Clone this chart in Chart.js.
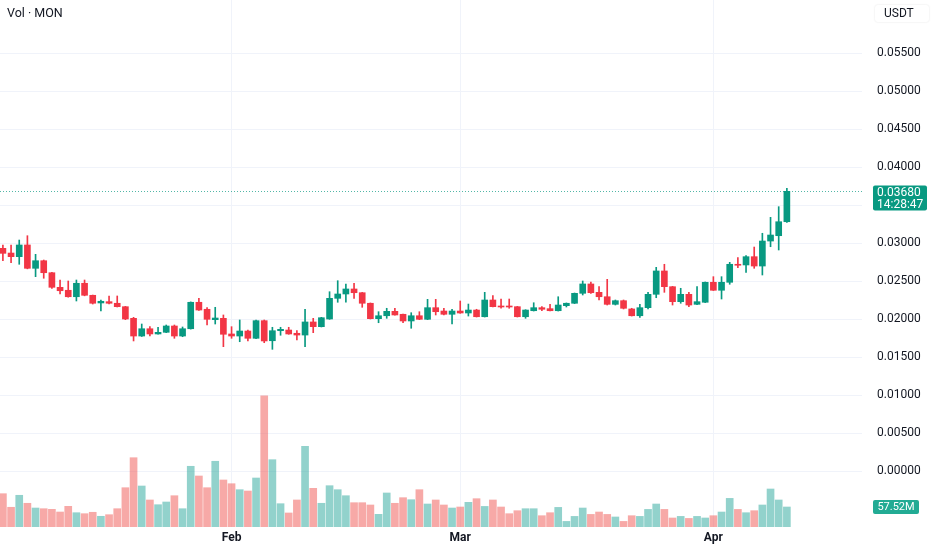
<!DOCTYPE html>
<html>
<head>
<meta charset="utf-8">
<script src="https://cdn.jsdelivr.net/npm/chart.js@4"></script>
<style>
  body { margin: 0; background: #fff; }
  #wrap { position: relative; width: 932px; height: 550px; }
  #legend { position: absolute; left: 7px; top: 5px; font: 12.5px Roboto, sans-serif; color: #131722; }
  #currency { position: absolute; left: 875px; top: 5px; width: 45px; height: 17px; padding-left: 9px;
    font: 12px Roboto, sans-serif; line-height: 17px; color: #131722; background: #fff;
    border-radius: 3px; box-shadow: 0 0 2px rgba(0,0,0,0.12); }
</style>
</head>
<body>
<div id="wrap">
  <canvas id="grafico" width="932" height="550"></canvas>
  <div id="legend">Vol · MON</div>
  <div id="currency">USDT</div>
</div>
<script>
// daily candles, Jan 4 .. Apr 10 (index 0 .. 96)
const opens = [
  0.02930, 0.02868, 0.02820, 0.02974, 0.02667, 0.02767, 0.02609, 0.02417, 0.02378, 0.02293,
  0.02470, 0.02312, 0.02211, 0.02228, 0.02207, 0.02162, 0.02009, 0.01776, 0.01872, 0.01803,
  0.01825, 0.01908, 0.01776, 0.01872, 0.02220, 0.02128, 0.01991, 0.02009, 0.01803, 0.01776,
  0.01842, 0.01746, 0.01978, 0.01714, 0.01846, 0.01855, 0.01812, 0.01789, 0.01961, 0.01899,
  0.02000, 0.02272, 0.02329, 0.02395, 0.02346, 0.02207, 0.02004, 0.02043, 0.02101, 0.02062,
  0.01974, 0.02043, 0.01996, 0.02149, 0.02105, 0.02062, 0.02105, 0.02079, 0.02118, 0.02030,
  0.02250, 0.02171, 0.02171, 0.02162, 0.02030, 0.02109, 0.02149, 0.02136, 0.02109, 0.02175,
  0.02207, 0.02338, 0.02461, 0.02351, 0.02293, 0.02193, 0.02241, 0.02132, 0.02043, 0.02149,
  0.02325, 0.02632, 0.02425, 0.02228, 0.02325, 0.02193, 0.02220, 0.02483, 0.02378, 0.02483,
  0.02720, 0.02711, 0.02820, 0.02697, 0.03026, 0.03096, 0.03280
];
const highs = [
  0.02974, 0.02974, 0.03039, 0.03096, 0.02851, 0.02776, 0.02615, 0.02513, 0.02500, 0.02513,
  0.02513, 0.02315, 0.02250, 0.02303, 0.02303, 0.02166, 0.02022, 0.01934, 0.01899, 0.01891,
  0.01921, 0.01921, 0.01895, 0.02225, 0.02272, 0.02149, 0.02154, 0.02053, 0.01899, 0.01987,
  0.01855, 0.01987, 0.01987, 0.01891, 0.01891, 0.01891, 0.01846, 0.02128, 0.02009, 0.02022,
  0.02359, 0.02504, 0.02461, 0.02470, 0.02350, 0.02211, 0.02096, 0.02141, 0.02141, 0.02066,
  0.02083, 0.02096, 0.02259, 0.02259, 0.02141, 0.02128, 0.02237, 0.02197, 0.02128, 0.02351,
  0.02307, 0.02263, 0.02263, 0.02166, 0.02122, 0.02214, 0.02162, 0.02193, 0.02293, 0.02211,
  0.02342, 0.02500, 0.02487, 0.02425, 0.02522, 0.02250, 0.02250, 0.02141, 0.02193, 0.02351,
  0.02680, 0.02720, 0.02429, 0.02404, 0.02351, 0.02425, 0.02487, 0.02557, 0.02557, 0.02746,
  0.02807, 0.02833, 0.02947, 0.03128, 0.03338, 0.03478, 0.03720
];
const lows = [
  0.02767, 0.02741, 0.02720, 0.02660, 0.02557, 0.02536, 0.02404, 0.02329, 0.02287, 0.02237,
  0.02305, 0.02197, 0.02105, 0.02197, 0.02158, 0.01991, 0.01711, 0.01770, 0.01776, 0.01799,
  0.01820, 0.01746, 0.01767, 0.01867, 0.02112, 0.01921, 0.01934, 0.01636, 0.01746, 0.01701,
  0.01711, 0.01742, 0.01688, 0.01601, 0.01786, 0.01799, 0.01724, 0.01636, 0.01820, 0.01895,
  0.01996, 0.02220, 0.02220, 0.02272, 0.02154, 0.02000, 0.01951, 0.02009, 0.02049, 0.01951,
  0.01878, 0.01991, 0.01991, 0.02053, 0.02053, 0.01934, 0.02075, 0.02039, 0.02026, 0.02026,
  0.02158, 0.02141, 0.02141, 0.02026, 0.02009, 0.02105, 0.02109, 0.02105, 0.02105, 0.02158,
  0.02203, 0.02316, 0.02338, 0.02250, 0.02184, 0.02184, 0.02132, 0.02039, 0.02022, 0.02132,
  0.02280, 0.02351, 0.02184, 0.02207, 0.02162, 0.02189, 0.02216, 0.02375, 0.02263, 0.02457,
  0.02675, 0.02614, 0.02667, 0.02579, 0.02951, 0.02908, 0.03272
];
const closes = [
  0.02864, 0.02820, 0.02974, 0.02667, 0.02767, 0.02609, 0.02417, 0.02372, 0.02293, 0.02470,
  0.02312, 0.02207, 0.02233, 0.02207, 0.02162, 0.02000, 0.01776, 0.01872, 0.01803, 0.01825,
  0.01908, 0.01776, 0.01872, 0.02220, 0.02118, 0.01996, 0.02013, 0.01799, 0.01776, 0.01842,
  0.01746, 0.01978, 0.01711, 0.01846, 0.01864, 0.01803, 0.01789, 0.01961, 0.01899, 0.02017,
  0.02272, 0.02329, 0.02395, 0.02346, 0.02207, 0.02004, 0.02043, 0.02101, 0.02053, 0.01974,
  0.02043, 0.01996, 0.02149, 0.02096, 0.02062, 0.02105, 0.02079, 0.02118, 0.02030, 0.02250,
  0.02162, 0.02158, 0.02158, 0.02030, 0.02118, 0.02149, 0.02128, 0.02109, 0.02184, 0.02207,
  0.02338, 0.02461, 0.02346, 0.02293, 0.02193, 0.02241, 0.02141, 0.02043, 0.02149, 0.02325,
  0.02632, 0.02425, 0.02228, 0.02325, 0.02184, 0.02228, 0.02483, 0.02378, 0.02483, 0.02720,
  0.02707, 0.02820, 0.02697, 0.03026, 0.03105, 0.03280, 0.03680
];
// volume in millions
const volumes = [
  95.8, 56.7, 91.2, 68.2, 54.6, 52.6, 50.9, 43.1, 59.5, 41.1,
  38.3, 42.3, 30.8, 35.4, 52.6, 113.0, 199.3, 117.9, 77.7, 64.1,
  71.9, 90.0, 52.6, 174.6, 146.7, 113.0, 189.0, 135.2, 124.5, 107.3,
  103.5, 140.9, 377.6, 193.6, 67.0, 40.3, 77.7, 232.1, 111.3, 68.2,
  118.8, 107.3, 90.0, 69.9, 69.9, 63.3, 36.5, 97.8, 68.2, 84.3,
  78.5, 107.3, 66.1, 77.7, 63.3, 54.6, 57.5, 71.0, 81.4, 59.2,
  77.7, 57.5, 38.3, 46.9, 52.6, 52.6, 32.5, 41.1, 56.4, 16.1,
  30.5, 54.6, 36.2, 43.1, 36.2, 28.8, 16.1, 32.5, 30.5, 50.6,
  66.1, 50.6, 25.9, 30.5, 24.7, 30.5, 25.9, 32.5, 43.1, 82.3,
  50.6, 41.1, 46.9, 63.3, 109.3, 77.7, 57.52
];
const monthTickIdx = [28, 56, 87];
const monthTickLabels = ['Feb', 'Mar', 'Apr'];
const priceTicks = [0, 0.005, 0.01, 0.015, 0.02, 0.025, 0.03, 0.035, 0.04, 0.045, 0.05, 0.055];
const countdown = '14:28:47';

const upColor = '#089981';
const downColor = '#F23645';
const upVol = 'rgba(38, 166, 154, 0.5)';
const downVol = 'rgba(239, 83, 80, 0.5)';
const gridColor = '#f0f3fa';
const textColor = '#131722';
const fontFamily = 'Roboto, sans-serif';

const isUp = opens.map((o, i) => closes[i] >= o);
const bodies = opens.map((o, i) => ({ x: i, y: [o, closes[i]] }));
const wicks = lows.map((l, i) => ({ x: i, y: [l, highs[i]] }));
const volBars = volumes.map((v, i) => ({ x: i, y: v }));

// last price line + labels on the right scale
const lastPricePlugin = {
    id: 'lastPrice',
    afterDraw(chart) {
        const ctx = chart.ctx;
        const area = chart.chartArea;
        const last = closes.length - 1;
        const py = Math.round(chart.scales.y.getPixelForValue(closes[last])) + 0.5;
        const vy = Math.round(chart.scales.vol.getPixelForValue(volumes[last]));
        ctx.save();
        ctx.strokeStyle = 'rgba(8, 153, 129, 0.7)';
        ctx.lineWidth = 1;
        ctx.setLineDash([1, 2]);
        ctx.beginPath();
        ctx.moveTo(area.left, py);
        ctx.lineTo(area.right, py);
        ctx.stroke();
        ctx.setLineDash([]);

        // price box
        ctx.fillStyle = upColor;
        ctx.beginPath();
        ctx.roundRect(area.right + 11, py - 6, 54, 25, 2);
        ctx.fill();
        ctx.fillStyle = '#fff';
        ctx.font = '12px ' + fontFamily;
        ctx.textAlign = 'left';
        ctx.textBaseline = 'middle';
        ctx.fillText(closes[last].toFixed(5), area.right + 15, py + 1);
        ctx.fillText(countdown, area.right + 15, py + 13);

        // volume box
        ctx.fillStyle = '#22ab94';
        ctx.beginPath();
        ctx.roundRect(area.right + 11, vy - 7, 46, 14, 2);
        ctx.fill();
        ctx.fillStyle = '#fff';
        ctx.font = '11px ' + fontFamily;
        ctx.textAlign = 'center';
        ctx.fillText(volumes[last].toFixed(2) + 'M', area.right + 34, vy + 0.5);
        ctx.restore();
    }
};

const ctx = document.getElementById('grafico').getContext('2d');
const grafico = new Chart(ctx, {
    type: 'bar',
    data: {
        datasets: [
            {
                label: 'body',
                data: bodies,
                backgroundColor: isUp.map(u => u ? upColor : downColor),
                barThickness: 6,
                minBarLength: 1,
                grouped: false,
                yAxisID: 'y',
                order: 0
            },
            {
                label: 'wick',
                data: wicks,
                backgroundColor: isUp.map(u => u ? upColor : downColor),
                barThickness: 1,
                grouped: false,
                yAxisID: 'y',
                order: 1
            },
            {
                label: 'volume',
                data: volBars,
                backgroundColor: isUp.map(u => u ? upVol : downVol),
                barThickness: 7,
                grouped: false,
                yAxisID: 'vol',
                order: 2
            }
        ]
    },
    options: {
        responsive: false,
        animation: false,
        layout: { padding: 0 },
        plugins: {
            legend: { display: false },
            tooltip: { enabled: false }
        },
        scales: {
            x: {
                type: 'linear',
                offset: false,
                min: -0.355,
                max: 105.2,
                grid: { color: gridColor, drawTicks: false, offset: false },
                border: { display: false },
                afterBuildTicks: scale => {
                    scale.ticks = monthTickIdx.map(v => ({ value: v }));
                },
                afterFit: scale => {
                    scale.height = 23;
                    scale.paddingLeft = 0;
                    scale.paddingRight = 0;
                },
                ticks: {
                    padding: 4,
                    maxRotation: 0,
                    autoSkip: false,
                    color: textColor,
                    font: { family: fontFamily, size: 12, weight: 'bold' },
                    callback: value => monthTickLabels[monthTickIdx.indexOf(value)]
                }
            },
            y: {
                position: 'right',
                min: -0.0073684,
                max: 0.0619737,
                grid: { color: gridColor, drawTicks: false },
                border: { display: false },
                afterBuildTicks: scale => {
                    scale.ticks = priceTicks.map(v => ({ value: v }));
                },
                afterFit: scale => {
                    scale.width = 70;
                    scale.paddingTop = 0;
                    scale.paddingBottom = 0;
                },
                ticks: {
                    padding: 15,
                    crossAlign: 'near',
                    color: textColor,
                    font: { family: fontFamily, size: 12 },
                    callback: value => value.toFixed(5)
                }
            },
            vol: {
                display: false,
                min: 0,
                max: 1515.7
            }
        }
    },
    plugins: [lastPricePlugin]
});
</script>
</body>
</html>
